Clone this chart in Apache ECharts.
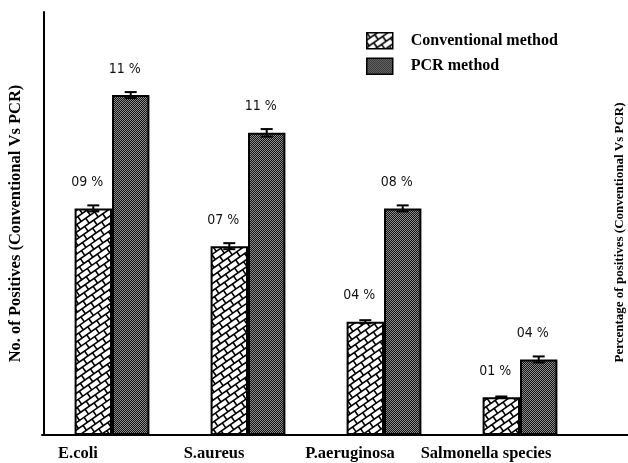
<!DOCTYPE html>
<html>
<head>
<meta charset="utf-8">
<script src="https://cdn.jsdelivr.net/npm/echarts@6/dist/echarts.min.js"></script>
<style>
  html, body { margin: 0; padding: 0; background: #fff; }
  #chart { width: 628px; height: 463px; }
</style>
</head>
<body>
<div id="chart"></div>
<script>
// Organisms tested
const categories = ['E.coli', 'S.aureus', 'P.aeruginosa', 'Salmonella species'];
// Number of positives detected by each method
const conventional = [30, 25, 15, 5];
const pcr = [45, 40, 30, 10];
// Error bar half-lengths
const conventionalErr = [0.4, 0.4, 0.2, 0.1];
const pcrErr = [0.4, 0.5, 0.4, 0.4];
// Percentage of positives shown above each bar
const conventionalPct = ['09 %', '07 %', '04 %', '01 %'];
const pcrPct = ['11 %', '11 %', '08 %', '04 %'];

const serif = '"Liberation Serif", "Times New Roman", serif';
const narrow = '"Liberation Sans Narrow", "Arial Narrow", "DejaVu Sans Condensed", sans-serif';

// Diagonal brick fill for the conventional method
function brickPattern() {
  const c = document.createElement('canvas');
  c.width = 700; c.height = 520;
  const ctx = c.getContext('2d');
  ctx.fillStyle = '#fff';
  ctx.fillRect(0, 0, c.width, c.height);
  ctx.strokeStyle = '#000';
  ctx.lineWidth = 1.6;
  ctx.rotate(-35 * Math.PI / 180);
  const H = 6, L = 11;
  for (let k = -120; k < 160; k++) {
    const y = k * H;
    ctx.beginPath();
    ctx.moveTo(-800, y); ctx.lineTo(1200, y);
    ctx.stroke();
    const off = (k % 2 === 0) ? 0 : L / 2;
    for (let j = -80; j < 120; j++) {
      const x = j * L + off;
      ctx.beginPath();
      ctx.moveTo(x, y); ctx.lineTo(x, y + H);
      ctx.stroke();
    }
  }
  return { image: c, repeat: 'repeat' };
}

// Fine dark dotted fill for the PCR method
function dotPattern() {
  const c = document.createElement('canvas');
  c.width = 2; c.height = 2;
  const ctx = c.getContext('2d');
  ctx.fillStyle = '#111';
  ctx.fillRect(0, 0, 2, 2);
  ctx.fillStyle = '#8e8e8e';
  ctx.fillRect(0, 0, 1, 1);
  ctx.fillRect(1, 1, 1, 1);
  return { image: c, repeat: 'repeat' };
}

const BAR_FRAC = 0.275;

function errorSeries(values, errs, side) {
  return {
    type: 'custom',
    xAxisIndex: 0, yAxisIndex: 0,
    z: 5,
    silent: true,
    data: values.map((v, i) => [i, v, errs[i]]),
    renderItem: function (params, api) {
      const band = api.size([1, 0])[0];
      const bw = band * BAR_FRAC;
      const base = api.coord([api.value(0), api.value(1)]);
      const x = base[0] + side * bw / 2;
      const hi = api.coord([api.value(0), api.value(1) + api.value(2)])[1];
      const lo = api.coord([api.value(0), api.value(1) - api.value(2)])[1];
      const cap = 6;
      const style = { stroke: '#000', lineWidth: 2 };
      return {
        type: 'group',
        children: [
          { type: 'line', shape: { x1: x, y1: hi, x2: x, y2: lo }, style: style },
          { type: 'line', shape: { x1: x - cap, y1: hi, x2: x + cap, y2: hi }, style: style },
          { type: 'line', shape: { x1: x - cap, y1: lo, x2: x + cap, y2: lo }, style: style }
        ]
      };
    }
  };
}

const chart = echarts.init(document.getElementById('chart'), null, { renderer: 'canvas' });

const pctLabel = (arr) => ({
  show: true,
  position: 'top',
  distance: 19,
  offset: [-6, 0],
  formatter: (p) => arr[p.dataIndex],
  fontFamily: narrow,
  fontSize: 14,
  color: '#111'
});

chart.setOption({
  animation: false,
  backgroundColor: '#fff',
  legend: {
    orient: 'vertical',
    left: 366,
    top: 32,
    padding: 0,
    icon: 'rect',
    itemWidth: 26,
    itemHeight: 16,
    itemGap: 8,
    data: ['Conventional method', 'PCR method'],
    textStyle: { fontFamily: serif, fontWeight: 'bold', fontSize: 16, color: '#000', padding: [0, 0, 0, 13] },
    itemStyle: { borderColor: '#000', borderWidth: 1.5 }
  },
  grid: [
    { left: 44, right: 40, top: 12, bottom: 28, outerBoundsMode: 'none' },
    { left: 42, right: 0, top: 12, bottom: 28, outerBoundsMode: 'none' }
  ],
  xAxis: [
    {
      type: 'category',
      gridIndex: 0,
      data: categories,
      axisLine: { show: false },
      axisTick: { show: false },
      axisLabel: {
        interval: 0,
        margin: 10,
        padding: [0, 68, 0, 0],
        fontFamily: serif,
        fontWeight: 'bold',
        fontSize: 16.5,
        color: '#000'
      }
    },
    {
      type: 'value',
      gridIndex: 1,
      axisLine: { show: true, onZero: false, lineStyle: { color: '#000', width: 2 } },
      axisTick: { show: false },
      axisLabel: { show: false },
      splitLine: { show: false }
    }
  ],
  yAxis: [
    {
      type: 'value',
      gridIndex: 0,
      min: 0,
      max: 56,
      name: 'No. of Positives (Conventional Vs PCR)',
      nameLocation: 'middle',
      nameGap: 20,
      nameTextStyle: { fontFamily: serif, fontWeight: 'bold', fontSize: 16.5, color: '#000' },
      axisLine: { show: true, lineStyle: { color: '#000', width: 2 } },
      axisTick: { show: false },
      axisLabel: { show: false },
      splitLine: { show: false }
    },
    {
      type: 'value',
      gridIndex: 0,
      position: 'right',
      min: 0,
      max: 56,
      name: 'Percentage of positives (Conventional Vs PCR)',
      nameLocation: 'middle',
      nameRotate: 90,
      nameGap: 25,
      nameTextStyle: { fontFamily: serif, fontWeight: 'bold', fontSize: 13, color: '#000', padding: [0, 18, 0, 0] },
      axisLine: { show: false },
      axisTick: { show: false },
      axisLabel: { show: false },
      splitLine: { show: false }
    },
    {
      type: 'value',
      gridIndex: 1,
      show: false
    }
  ],
  series: [
    {
      name: 'Conventional method',
      type: 'bar',
      xAxisIndex: 0, yAxisIndex: 0,
      data: conventional,
      barWidth: (BAR_FRAC * 100) + '%',
      barGap: '0%',
      itemStyle: { color: brickPattern(), borderColor: '#000', borderWidth: 2 },
      label: pctLabel(conventionalPct)
    },
    {
      name: 'PCR method',
      type: 'bar',
      xAxisIndex: 0, yAxisIndex: 0,
      data: pcr,
      barWidth: (BAR_FRAC * 100) + '%',
      barGap: '0%',
      itemStyle: { color: dotPattern(), borderColor: '#000', borderWidth: 2 },
      label: pctLabel(pcrPct)
    },
    errorSeries(conventional, conventionalErr, -1),
    errorSeries(pcr, pcrErr, 1)
  ]
});
</script>
</body>
</html>
